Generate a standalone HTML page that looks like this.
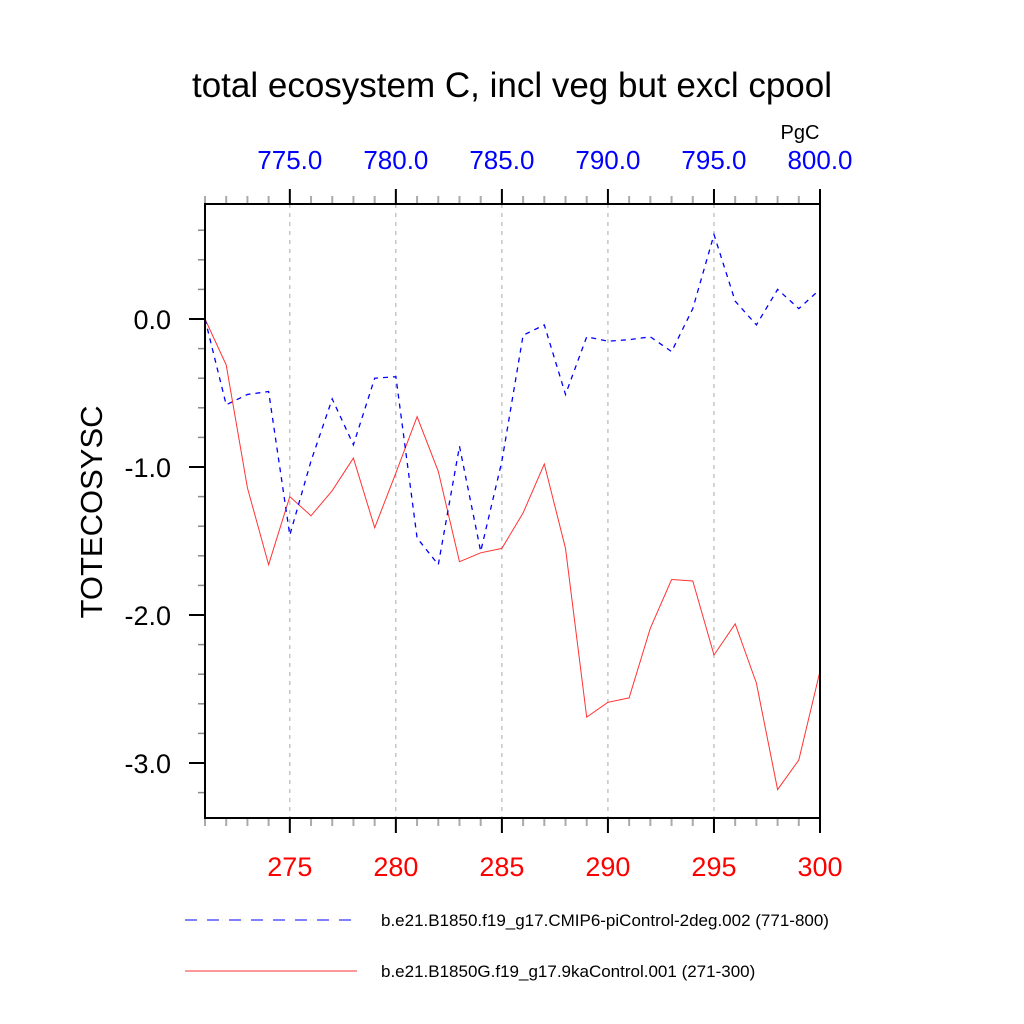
<!DOCTYPE html>
<html><head><meta charset="utf-8"><style>
html,body{margin:0;padding:0;background:#fff;}
svg{display:block;font-family:"Liberation Sans",sans-serif;}
</style></head><body>
<svg id="chart" width="1024" height="1024" viewBox="0 0 1024 1024">
<text x="512" y="97" font-size="35" text-anchor="middle">total ecosystem C, incl veg but excl cpool</text>
<text x="800" y="139" font-size="20" text-anchor="middle">PgC</text>
<text transform="translate(102,512) rotate(-90)" font-size="31" text-anchor="middle">TOTECOSYSC</text>
<g id="grid"></g>
<g id="ticks"></g>
<g id="labels"></g>
<g id="series"></g>
<rect x="205" y="204" width="615" height="614" fill="none" stroke="#000" stroke-width="2"/>
<line x1="185" y1="920" x2="355" y2="920" stroke="#00f" stroke-width="1" stroke-dasharray="12,10"/>
<text x="381" y="926" font-size="17">b.e21.B1850.f19_g17.CMIP6-piControl-2deg.002 (771-800)</text>
<line x1="185" y1="971" x2="357" y2="971" stroke="#f00" stroke-width="1" stroke-opacity="0.8"/>
<text x="381" y="977" font-size="17">b.e21.B1850G.f19_g17.9kaControl.001 (271-300)</text>
</svg>
<script>
const years = [271,272,273,274,275,276,277,278,279,280,281,282,283,284,285,286,287,288,289,290,291,292,293,294,295,296,297,298,299,300];
const blueValues = [0,-0.58,-0.51,-0.49,-1.46,-0.96,-0.54,-0.85,-0.40,-0.39,-1.48,-1.66,-0.86,-1.57,-0.96,-0.11,-0.04,-0.51,-0.12,-0.15,-0.14,-0.12,-0.22,0.07,0.57,0.12,-0.04,0.20,0.07,0.20];
const redValues = [0,-0.31,-1.14,-1.66,-1.20,-1.33,-1.16,-0.94,-1.41,-1.04,-0.66,-1.03,-1.64,-1.58,-1.55,-1.31,-0.98,-1.55,-2.69,-2.59,-2.56,-2.09,-1.76,-1.77,-2.27,-2.06,-2.46,-3.18,-2.98,-2.38];
const bottomTicks = [275,280,285,290,295,300];
const topTickLabels = ["775.0","780.0","785.0","790.0","795.0","800.0"];
const yTicks = [0,-1,-2,-3];
const yTickLabels = ["0.0","-1.0","-2.0","-3.0"];
const X0=205,X1=820,Y0=204,Y1=818;
function xs(v){return X0+(v-271)/(300-271)*(X1-X0);}
function ys(v){return 319-v*148;}
const NS="http://www.w3.org/2000/svg";
function mk(parent,tag,attrs){const e=document.createElementNS(NS,tag);for(const k in attrs)e.setAttribute(k,attrs[k]);document.getElementById(parent).appendChild(e);return e;}
for(let y=271;y<=300;y++){
  const major=bottomTicks.includes(y);
  const x=xs(y);
  const t1=mk('ticks','line',{x1:x,x2:x,y1:Y0,y2:Y0-(major?15:8),stroke:major?'#000':'#aaa','stroke-width':2});
  
  
  const t2=mk('ticks','line',{x1:x,x2:x,y1:Y1,y2:Y1+(major?15:8),stroke:major?'#000':'#aaa','stroke-width':2});
  
  
}
bottomTicks.forEach((v,i)=>{
  const x=xs(v);
  const g=mk('grid','line',{x1:x,x2:x,y1:Y0,y2:Y1,stroke:'#aaa','stroke-width':1,'stroke-dasharray':'4,5'});
  
  
  const b=mk('labels','text',{x:x,y:876,'font-size':27,fill:'#f00','text-anchor':'middle'});
  
  
  b.textContent=v;
  const t=mk('labels','text',{x:x,y:169,'font-size':26,fill:'#00f','text-anchor':'middle'});
  
  
  t.textContent=topTickLabels[i];
});
for(let k=-16;k<=3;k++){
  const v=k*0.2;const y=ys(v);
  if(y<Y0||y>Y1)continue;
  const major=(k%5===0);
  const t=mk('ticks','line',{x1:X0,x2:X0-(major?16:7),y1:y,y2:y,stroke:major?'#000':'#888','stroke-width':major?2:1.5});
  
  
}
yTicks.forEach((v,i)=>{
  const l=mk('labels','text',{x:171,y:ys(v)+10,'font-size':27,'text-anchor':'end'});
  
  
  l.textContent=yTickLabels[i];
});
function pts(vals){return years.map((y,i)=>xs(y).toFixed(1)+','+ys(vals[i]).toFixed(1)).join(' ');}
const red=mk('series','polyline',{points:pts(redValues),fill:'none',stroke:'#f00','stroke-opacity':0.8,'stroke-width':1});


const blue=mk('series','polyline',{points:pts(blueValues),fill:'none',stroke:'#00f','stroke-width':1.3,'stroke-dasharray':'5,5'});


</script>
</body></html>
